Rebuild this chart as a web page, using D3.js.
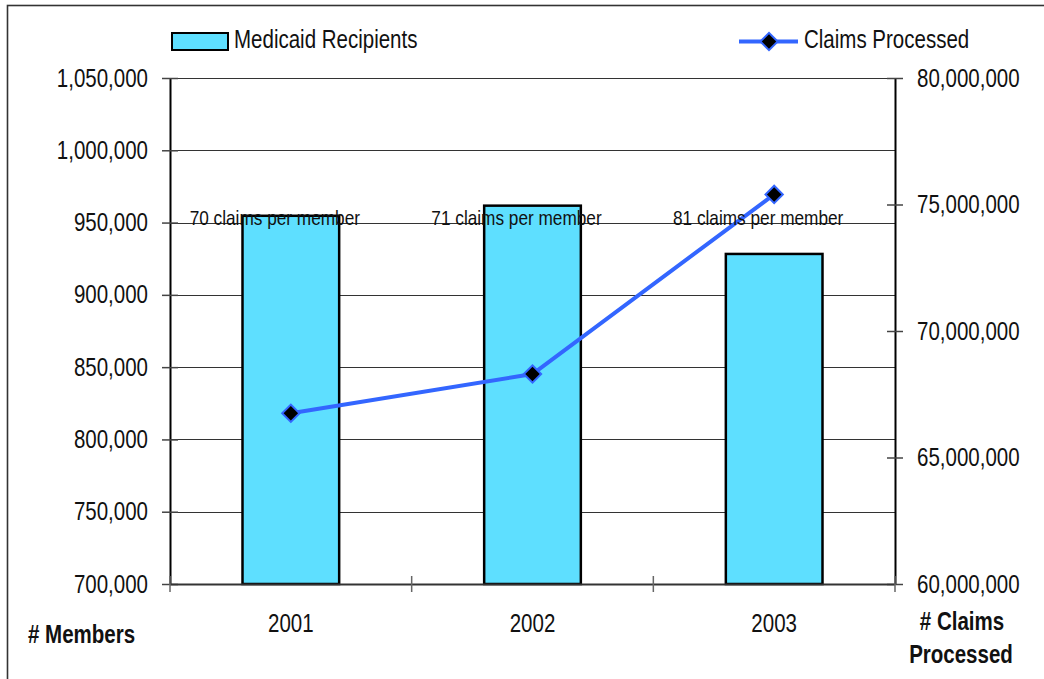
<!DOCTYPE html>
<html><head><meta charset="utf-8">
<script src="https://cdn.jsdelivr.net/npm/d3@7"></script>
<style>
html,body{margin:0;padding:0;background:#fff;}
svg{display:block;font-family:"Liberation Sans Narrow","Liberation Sans",Arial,sans-serif;}
</style></head>
<body>
<svg id="chart" width="1044" height="679"></svg>
<script>
const years = ["2001", "2002", "2003"];
const recipients = [954700, 961700, 928300];
const claims = [66750000, 68300000, 75400000];
const perMemberLabels = ["70 claims per member", "71 claims per member", "81 claims per member"];
const leftTicks = [700000, 750000, 800000, 850000, 900000, 950000, 1000000, 1050000];
const rightTicks = [60000000, 65000000, 70000000, 75000000, 80000000];

const svg = d3.select("#chart");
const L = 170, R = 895, T = 78, B = 584;
const fmt = d3.format(",");

// outer border
svg.append("rect").attr("x", 7.5).attr("y", 5.5).attr("width", 1100).attr("height", 800)
  .attr("fill", "none").attr("stroke", "#333").attr("stroke-width", 1.6);

const x = d3.scaleBand().domain(years).range([L, R]).padding(0);
const yL = d3.scaleLinear().domain([700000, 1050000]).range([B, T]);
const yR = d3.scaleLinear().domain([60000000, 80000000]).range([B, T]);

// gridlines
svg.append("g").selectAll("line").data(leftTicks).join("line")
  .attr("x1", L).attr("x2", R)
  .attr("y1", d => Math.round(yL(d)) + 0.5).attr("y2", d => Math.round(yL(d)) + 0.5)
  .attr("stroke", "#333").attr("stroke-width", 1);

// bars
const bw = x.bandwidth() * 0.4;
svg.append("g").selectAll("rect").data(years).join("rect")
  .attr("x", d => x(d) + (x.bandwidth() - bw) / 2)
  .attr("y", (d, i) => yL(recipients[i]))
  .attr("width", bw)
  .attr("height", (d, i) => B - yL(recipients[i]))
  .attr("fill", "#5EDFFF").attr("stroke", "#000").attr("stroke-width", 2.5);

// left axis
const axL = svg.append("g").attr("transform", `translate(${L},0)`)
  .call(d3.axisLeft(yL).tickValues(leftTicks).tickFormat(fmt).tickSizeInner(8).tickSizeOuter(0).tickPadding(14));
axL.selectAll(".tick line").attr("x2", 8).clone().attr("x2", -8);
// right axis
const axR = svg.append("g").attr("transform", `translate(${R},0)`)
  .call(d3.axisRight(yR).tickValues(rightTicks).tickFormat(fmt).tickSizeInner(8).tickSizeOuter(0).tickPadding(14));
axR.selectAll(".tick line").clone().attr("x2", -8);
[axL, axR].forEach(a => {
  a.select(".domain").attr("stroke", "#000").attr("stroke-width", 2);
  a.selectAll(".tick line").attr("stroke", "#444").attr("stroke-width", 1.5);
  a.selectAll(".tick text").attr("font-size", 25).attr("fill", "#111").attr("font-family", "'Liberation Sans', sans-serif");
});

// bottom axis
const bottomTicks = [L, ...years.map(d => x(d) + x.bandwidth())];
svg.append("line").attr("x1", L).attr("x2", R).attr("y1", B + 0.5).attr("y2", B + 0.5)
  .attr("stroke", "#333").attr("stroke-width", 2);
svg.append("g").selectAll("line").data(bottomTicks).join("line")
  .attr("x1", d => d).attr("x2", d => d).attr("y1", B - 8).attr("y2", B + 8)
  .attr("stroke", "#666").attr("stroke-width", 1.5);
svg.append("g").selectAll("text").data(years).join("text")
  .attr("x", d => x(d) + x.bandwidth() / 2).attr("y", 632)
  .attr("text-anchor", "middle").attr("font-size", 25).attr("fill", "#111").text(d => d);

// line
const pts = years.map((d, i) => [x(d) + x.bandwidth() / 2, yR(claims[i])]);
svg.append("path").attr("d", d3.line()(pts)).attr("fill", "none")
  .attr("stroke", "#3366FF").attr("stroke-width", 4);
const diamond = d3.symbol().type(d3.symbolSquare).size(150);
svg.append("g").selectAll("path").data(pts).join("path")
  .attr("d", diamond).attr("transform", d => `translate(${d[0]},${d[1]}) rotate(45)`)
  .attr("fill", "#000").attr("stroke", "#3366FF").attr("stroke-width", 2);

// annotations
svg.append("g").selectAll("text").data(perMemberLabels).join("text")
  .attr("x", (d, i) => x(years[i]) + x.bandwidth() / 2 - 16).attr("y", 225)
  .attr("text-anchor", "middle").attr("font-size", 21).attr("fill", "#111").text(d => d);

// legend
svg.append("rect").attr("x", 172).attr("y", 33).attr("width", 56).attr("height", 17)
  .attr("fill", "#5EDFFF").attr("stroke", "#000").attr("stroke-width", 2);
svg.append("text").attr("x", 234).attr("y", 48).attr("font-size", 25).attr("fill", "#111").text("Medicaid Recipients");
svg.append("line").attr("x1", 739).attr("x2", 798).attr("y1", 41.5).attr("y2", 41.5)
  .attr("stroke", "#3366FF").attr("stroke-width", 4);
svg.append("path").attr("d", diamond).attr("transform", "translate(769,41.5) rotate(45)")
  .attr("fill", "#000").attr("stroke", "#3366FF").attr("stroke-width", 2);
svg.append("text").attr("x", 804).attr("y", 48).attr("font-size", 25).attr("fill", "#111").text("Claims Processed");

// axis titles
svg.append("text").attr("x", 28).attr("y", 643).attr("font-size", 25).attr("font-weight", "bold").attr("fill", "#111").text("# Members");
svg.append("text").attr("x", 962).attr("y", 630).attr("text-anchor", "middle").attr("font-size", 25).attr("font-weight", "bold").attr("fill", "#111").text("# Claims");
svg.append("text").attr("x", 961).attr("y", 663).attr("text-anchor", "middle").attr("font-size", 25).attr("font-weight", "bold").attr("fill", "#111").text("Processed");

// condense all text horizontally (narrow face look)
svg.selectAll("text").each(function () {
  const w = this.getComputedTextLength();
  d3.select(this).attr("textLength", w * 0.82).attr("lengthAdjust", "spacingAndGlyphs");
});
</script>
</body></html>
